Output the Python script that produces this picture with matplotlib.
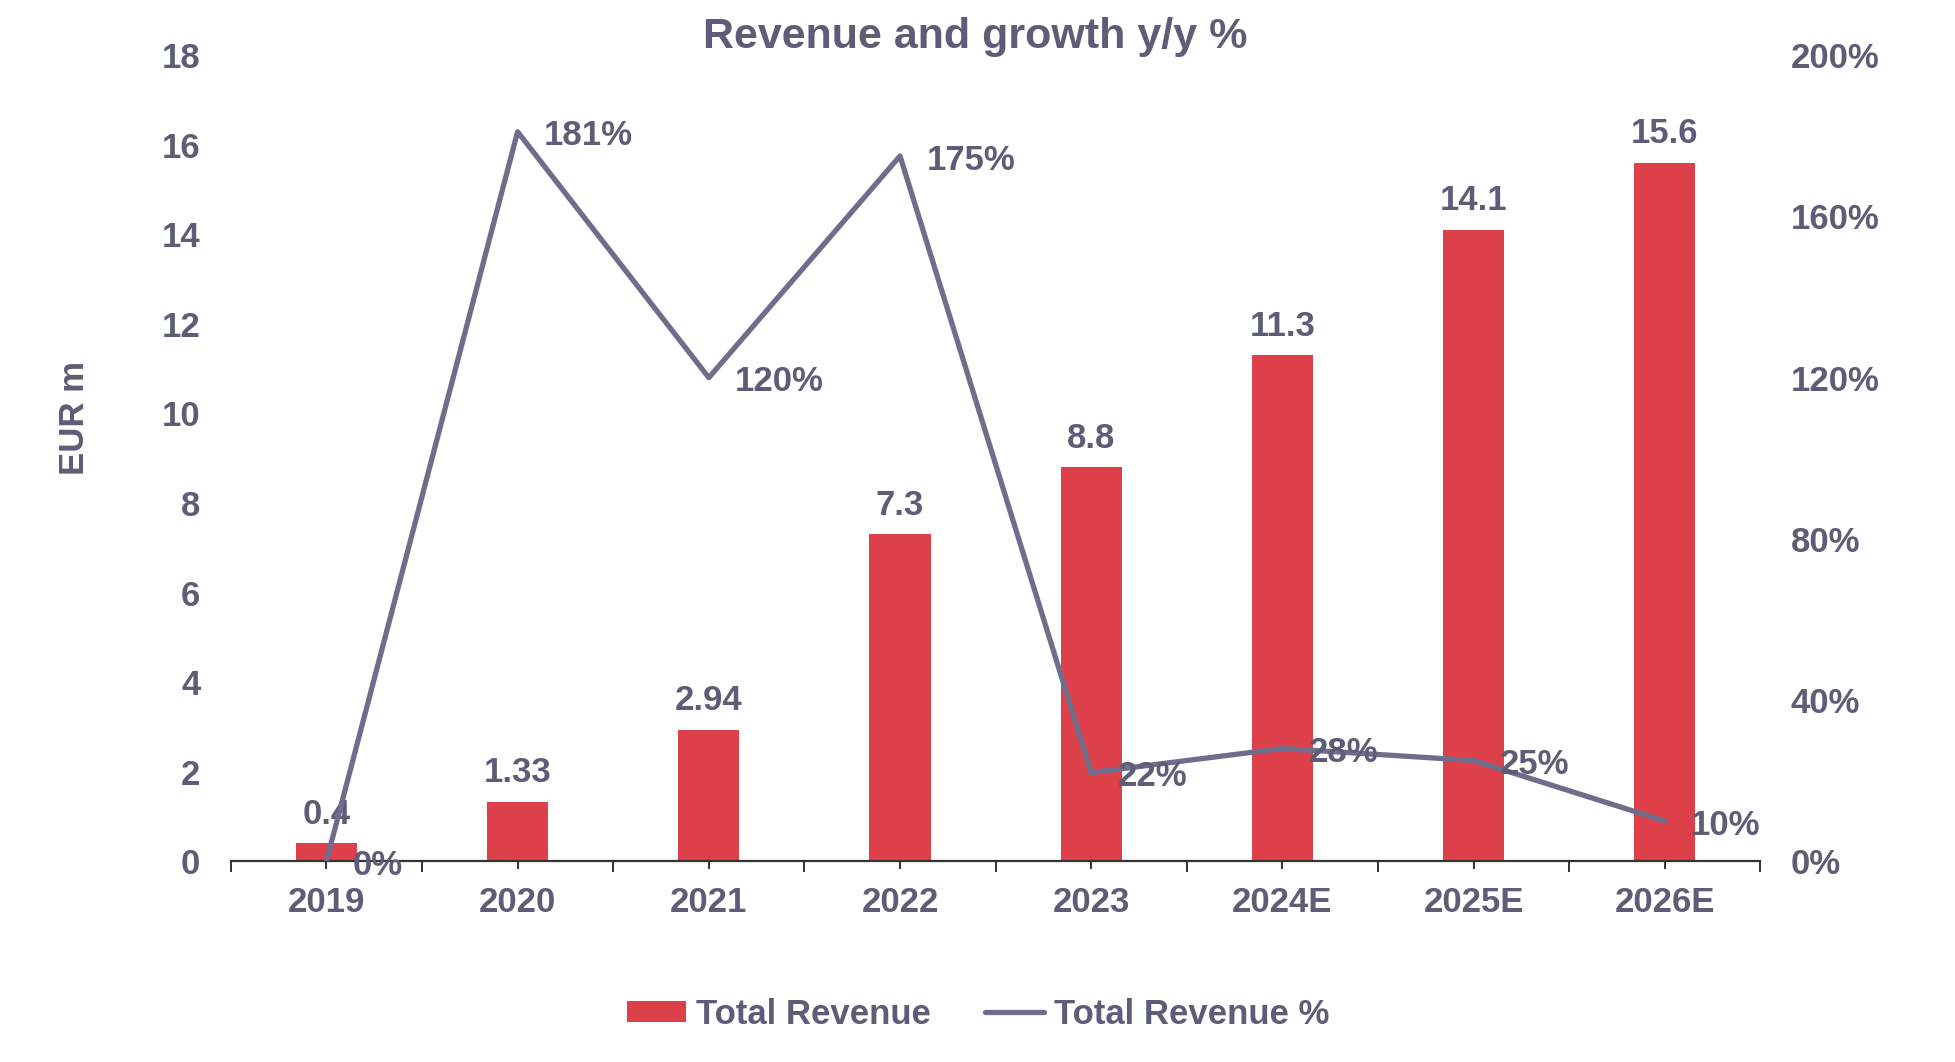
import matplotlib
matplotlib.use("Agg")
import matplotlib.pyplot as plt
import numpy as np

# data
years = ['2019', '2020', '2021', '2022', '2023', '2024E', '2025E', '2026E']
revenue = [0.4, 1.33, 2.94, 7.3, 8.8, 11.3, 14.1, 15.6]
revenue_labels = ['0.4', '1.33', '2.94', '7.3', '8.8', '11.3', '14.1', '15.6']
growth = [0, 181, 120, 175, 22, 28, 25, 10]

bar_color = '#de404a'
line_color = '#6e6e8c'
text_color = '#5d5d78'

plt.rcParams['font.family'] = ['Liberation Sans', 'DejaVu Sans']
plt.rcParams['font.weight'] = 'bold'

fig = plt.figure(figsize=(19.56, 10.62), dpi=100)
ax = fig.add_axes([0.118, 0.189, 0.782, 0.759])
ax2 = ax.twinx()

x = np.arange(len(years))

# bars
ax.bar(x, revenue, width=0.32, color=bar_color, label='Total Revenue', zorder=2)
for xi, v, lab in zip(x, revenue, revenue_labels):
    ax.annotate(lab, (xi, v), xytext=(0, 9), textcoords='offset points',
                ha='center', va='bottom', fontsize=25, color=text_color, fontweight='bold')

# growth line
ax2.plot(x, growth, color=line_color, lw=3.8, solid_capstyle='round',
         label='Total Revenue %', zorder=3)
for xi, g in zip(x, growth):
    ax2.annotate(f'{g}%', (xi, g), xytext=(19, -3), textcoords='offset points',
                 ha='left', va='center', fontsize=25, color=text_color, fontweight='bold')

ax.set_xlim(-0.5, len(years) - 0.5)
ax.set_ylim(0, 18)
ax2.set_ylim(0, 200)
ax.set_yticks(np.arange(0, 19, 2))
ax2.set_yticks(np.arange(0, 201, 40))
ax2.set_yticklabels([f'{t}%' for t in range(0, 201, 40)])

ax.set_xticks(x)
ax.set_xticklabels(years)
ax.set_xticks(np.arange(-0.5, len(years), 1), minor=True)

for a in (ax, ax2):
    for s in a.spines.values():
        s.set_visible(False)
ax.spines['bottom'].set_visible(True)
ax.spines['bottom'].set_color('#333333')
ax.spines['bottom'].set_linewidth(1.6)
ax.spines['bottom'].set_zorder(5)

ax.tick_params(axis='x', which='major', length=6, width=1.4, color='#333333',
               pad=12, labelsize=25, labelcolor=text_color)
ax.tick_params(axis='x', which='minor', length=8, width=1.4, color='#333333')
ax.tick_params(axis='y', length=0, pad=22, labelsize=25, labelcolor=text_color)
ax2.tick_params(axis='y', length=0, pad=22, labelsize=25, labelcolor=text_color)

fig.text(0.0383, 0.606, 'EUR m', rotation=90, ha='center', va='center',
         fontsize=25, color=text_color, fontweight='bold')
fig.text(0.4987, 0.9648, 'Revenue and growth y/y %', ha='center', va='center',
         fontsize=31, color=text_color, fontweight='bold')

h1, l1 = ax.get_legend_handles_labels()
h2, l2 = ax2.get_legend_handles_labels()
fig.legend(h1 + h2, l1 + l2, loc='center', bbox_to_anchor=(0.5, 0.045), ncol=2,
           frameon=False, fontsize=25, labelcolor=text_color, handlelength=1.7,
           handleheight=0.55, handletextpad=0.3, columnspacing=1.55)

fig.savefig('out.png', dpi=100)
